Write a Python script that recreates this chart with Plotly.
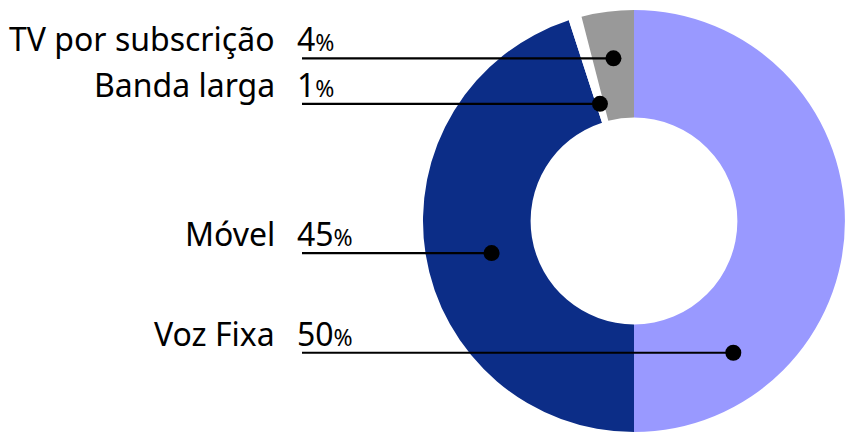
import math
import plotly.graph_objects as go

# ---- data ----
categories = ["Voz Fixa", "Móvel", "Banda larga", "TV por subscrição"]
values = [50, 45, 1, 4]
value_labels = ["50", "45", "1", "4"]

# ---- styles ----
colors = ["#9999ff", "#0c2d87", "#ffffff", "#999999"]
W, H = 847, 435
CX, CY, R = 634, 221, 211
HOLE = 0.49
# dot placement: (angle clockwise from 12 o'clock in deg or None=slice middle, radius px)
dot_place = [(143, 165), (257.3, 146), (None, 122), (None, 164)]
LINE_X0 = 302
NAME_X = 277
VAL_X = 295
FONT = "Noto Sans"
FS = 32
DOT_R = 8

fig = go.Figure()
fig.add_trace(go.Pie(
    labels=categories, values=values, sort=False, direction="clockwise",
    rotation=0, hole=HOLE, marker=dict(colors=colors, line=dict(width=0)),
    textinfo="none", hoverinfo="label+percent", showlegend=False,
    domain=dict(x=[(CX - R) / W, (CX + R) / W],
                y=[(H - CY - R) / H, (H - CY + R) / H]),
))

total = sum(values)
cum = 0
for i, v in enumerate(values):
    mid = (cum + v / 2) / total * 360
    cum += v
    ang, rad = dot_place[i]
    if ang is None:
        ang = mid
    t = math.radians(ang)
    x = CX + rad * math.sin(t)
    y = CY - rad * math.cos(t)
    fig.add_shape(type="line", x0=LINE_X0, x1=x, y0=y, y1=y, xref="x", yref="y",
                  line=dict(color="black", width=2.2), layer="above")
    fig.add_shape(type="circle", x0=x - DOT_R, x1=x + DOT_R, y0=y - DOT_R, y1=y + DOT_R,
                  xref="x", yref="y", fillcolor="black", line=dict(width=0),
                  layer="above")
    fig.add_annotation(x=NAME_X, y=y + 4, xref="x", yref="y", text=categories[i],
                       xanchor="right", yanchor="bottom", showarrow=False,
                       font=dict(family=FONT, size=FS, color="black"))
    fig.add_annotation(x=VAL_X, y=y + 4, xref="x", yref="y",
                       text=value_labels[i] + "<span style='font-size:23px'>%</span>",
                       xanchor="left", yanchor="bottom", showarrow=False,
                       font=dict(family=FONT, size=FS, color="black"))

fig.update_layout(
    width=W, height=H, margin=dict(l=0, r=0, t=0, b=0),
    paper_bgcolor="white", plot_bgcolor="rgba(0,0,0,0)",
    xaxis=dict(range=[0, W], visible=False, fixedrange=True),
    yaxis=dict(range=[H, 0], visible=False, fixedrange=True),
)
fig.write_html("out.html")
